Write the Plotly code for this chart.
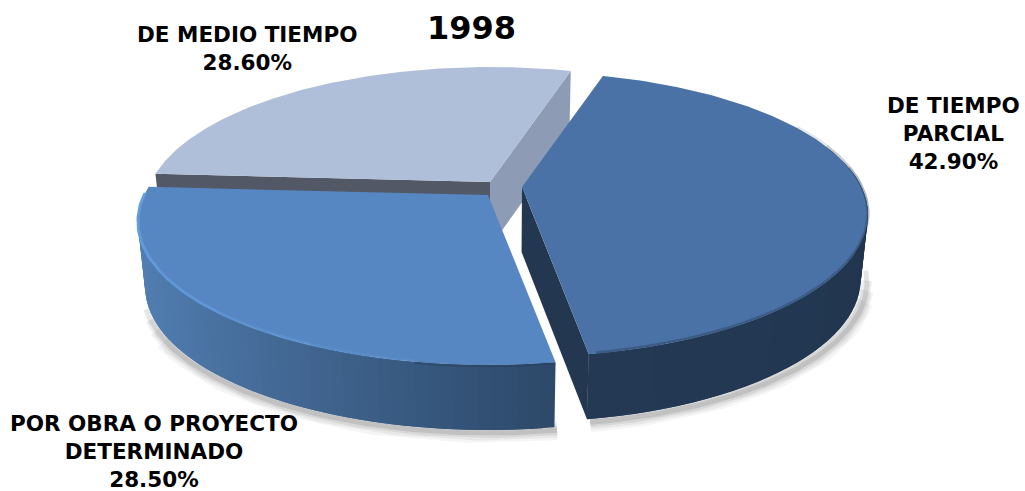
import numpy as np
import plotly.graph_objects as go

# ---- data ----
categories = ["DE TIEMPO PARCIAL", "POR OBRA O PROYECTO DETERMINADO", "DE MEDIO TIEMPO"]
values = [42.9, 28.5, 28.6]
title_text = "1998"

# ---- styles / projection ----
W, H = 1025, 491
START = 16.4
RXS = [339.5, 343.5, 339]
RY, K = 137.2, 0.193
DEPTH = 65
XC, BOTTOM_SCALE = 500, 0.98
OFFSET = [(32, 5), (-2, 13), (0, 0)]
APEX = (490, 182)
TOP = ["#4A72A6", "#5787C2", "#AFBFDA"]


def proj(t, s):
    t = np.radians(t)
    off = OFFSET[s]
    u, v = np.sin(t), -np.cos(t)
    den = 1 - K * v
    return APEX[0] + off[0] + RXS[s] * u / den, APEX[1] + off[1] + RY * v / den


def down(x, y):
    """Lower rim of the wall below a point on the upper rim."""
    return XC + (np.asarray(x, float) - XC) * BOTTOM_SCALE, np.asarray(y, float) + DEPTH


def hexrgb(c):
    return np.array([int(c[i:i + 2], 16) for i in (1, 3, 5)], float)


def mix(a, b, f):
    c = hexrgb(a) * (1 - f) + hexrgb(b) * f
    return "rgb(%d,%d,%d)" % tuple(c)


fig = go.Figure()


def poly(x, y, color, line=0.0):
    fig.add_trace(go.Scatter(x=list(x), y=list(y), mode="lines", fill="toself", fillcolor=color,
                             line=dict(color=color, width=line), hoverinfo="skip", showlegend=False))


def stroke(x, y, color, width):
    fig.add_trace(go.Scatter(x=list(x), y=list(y), mode="lines", line=dict(color=color, width=width),
                             hoverinfo="skip", showlegend=False))


def wall(ts, s, colors):
    # each quad runs two steps, so the next one paints over its edge and no seams show
    xs, ys = proj(ts, s)
    bx, by = down(xs, ys)
    n = len(ts)
    for i in range(n - 1):
        j = min(i + 2, n - 1) + 1
        poly(np.r_[xs[i:j], bx[i:j][::-1]], np.r_[ys[i:j], by[i:j][::-1]], colors[i])


def flat_wall(s, t_edge, color):
    off = OFFSET[s]
    ax, ay = APEX[0] + off[0], APEX[1] + off[1]
    ex, ey = proj(t_edge, s)
    bx, by = down([ex, ax], [ey, ay])
    poly([ax, ex, bx[0], bx[1]], [ay, ey, by[0], by[1]], color)


def top(s, t0, t1):
    off = OFFSET[s]
    x, y = proj(np.linspace(t0, t1, 160), s)
    poly(np.r_[APEX[0] + off[0], x], np.r_[APEX[1] + off[1], y], TOP[s])


# slice angles from the values
total = sum(values)
spans = [v / total * 360 for v in values]
edges = np.concatenate([[START], START + np.cumsum(spans)])
a = {i: (edges[i], edges[i + 1]) for i in range(3)}

# soft shadows beneath the walls (the wider bands stop earlier, so the ends fade)
for w, alpha, trim in [(20, .04, 34), (15, .05, 30), (10, .07, 26), (5, .10, 22)]:
    for s, lo, hi in [(1, a[1][0], a[1][1] - trim), (0, a[0][0] + 58 + trim, a[0][1])]:
        x, y = proj(np.linspace(lo, hi, 120), s)
        bx, by = down(x, y)
        stroke(bx + (bx - XC) * 0.012 + 2, by + 3, f"rgba(0,0,0,{alpha})", w)

# --- back slice: medio tiempo ---
flat_wall(2, a[2][1], "#8E9BB5")
flat_wall(2, a[2][0], "#525866")
top(2, *a[2])

# --- front slice: por obra ---
ts = np.linspace(a[1][0], a[1][1], 60)
xs, ys = proj(ts, 1)
x0, x1 = xs.max(), xs.min()
wall(ts, 1, [mix("#527FB3", "#2E4A6B", ((xs[i] - x1) / (x0 - x1)) ** 0.85) for i in range(len(ts))])
top(1, *a[1])
x, y = proj(np.linspace(a[1][0], 190, 40), 1)
stroke(x, y + 1, "rgba(30,50,80,0.28)", 2.5)
for lo, hi, al in [(190, 205, .25), (205, 222, .5), (222, 240, .75), (240, a[1][1] - 3, .95)]:
    x, y = proj(np.linspace(lo, hi, 30), 1)
    stroke(x, y - 1, f"rgba(98,155,220,{al})", 3)

# --- exploded slice: tiempo parcial ---
flat_wall(0, a[0][1], "#233850")
ts = np.linspace(a[0][0] + 65, a[0][1], 40)
wall(ts, 0, [mix("#21344C", "#243A55", i / (len(ts) - 1)) for i in range(len(ts))])
top(0, *a[0])
for lo, hi, al in [(62, 72, .12), (72, 82, .25), (82, a[0][1] - 1, .38)]:
    x, y = proj(np.linspace(lo, hi, 40), 0)
    stroke(x, y - 1, f"rgba(34,54,80,{al})", 3)

# ---- labels ----
FONT = "DejaVu Sans"


def label(text, px, py, size=21.5):
    fig.add_annotation(text=text, x=px, y=py, xref="x", yref="y", showarrow=False, align="center",
                       font=dict(family=FONT, size=size, color="#000000"), xanchor="center", yanchor="middle")


label(f"<b>DE MEDIO TIEMPO<br>{values[2]:.2f}%</b>", 247, 48)
label(f"<b>DE TIEMPO<br>PARCIAL<br>{values[0]:.2f}%</b>", 953, 133)
label(f"<b>POR OBRA O PROYECTO<br>DETERMINADO<br>{values[1]:.2f}%</b>", 154, 451)
label(f"<b>{title_text}</b>", 471, 28, size=32)

fig.update_xaxes(range=[0, W], visible=False, fixedrange=True)
fig.update_yaxes(range=[H, 0], visible=False, fixedrange=True)
fig.update_layout(width=W, height=H, margin=dict(l=0, r=0, t=0, b=0), paper_bgcolor="white",
                  plot_bgcolor="white", showlegend=False)
fig.write_html("out.html", config={"displayModeBar": False},
               post_script="document.body.style.margin='0';document.body.style.overflow='hidden';")
